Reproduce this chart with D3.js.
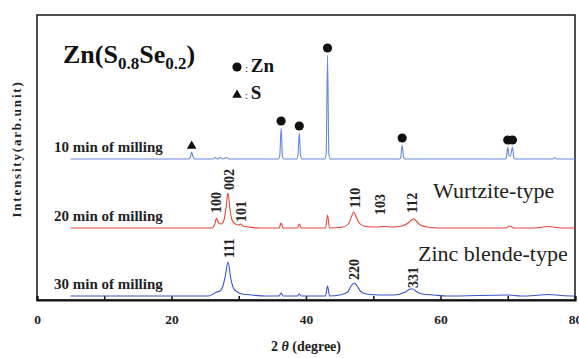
<!DOCTYPE html>
<html>
<head>
<meta charset="utf-8">
<script src="https://cdn.jsdelivr.net/npm/d3@7"></script>
<style>
  body { margin: 0; background: #fff; }
</style>
</head>
<body>
<svg class="xrd"></svg>
<script>
// scans: [2theta, intensity above the scan's own baseline]
const scan10 = [[5,0],[22.5,0],[22.8,2],[23,7],[23.2,2],[23.5,0],[26.2,0],[26.5,1.5],[26.8,0],[27.3,1.5],[27.6,0],[28.2,1.5],[28.5,0],
  [35.9,0],[36.1,3],[36.3,31],[36.5,3],[36.7,0],[38.6,0],[38.8,3],[39.0,26],[39.2,3],[39.4,0],
  [42.8,0],[43.0,5],[43.2,104],[43.4,5],[43.6,0],[53.9,0],[54.1,2],[54.3,14],[54.5,2],[54.7,0],
  [69.6,0],[69.8,2],[70.0,12],[70.2,3],[70.4,3],[70.7,12],[70.9,2],[71.1,0],[76.7,0],[77,1.5],[77.3,0],[80,0]];
const scan20 = [[5,0],[26.0,0],[26.4,3],[26.7,10],[27.0,5],[27.4,4],[27.8,8],[28.1,20],[28.4,35],[28.7,18],[29.0,8],[29.5,4],
  [30.0,3],[30.3,4],[30.6,2],[31.5,1],[33,0],[36.0,0],[36.3,5],[36.6,0],[38.7,0],[39.0,4],[39.3,0],[42.9,0],[43.2,13],[43.5,0],
  [45.5,1],[46.3,4],[46.8,12],[47.1,16],[47.4,12],[47.9,5],[48.6,2],[50,1],[51.7,1.5],[53,1],[54.3,2],[55.2,5],[55.7,8],[56.0,9],
  [56.4,7],[57.0,3],[58,1],[60,0],[69.8,0],[70.2,2],[70.6,1],[71,0],[74,0],[76,1.5],[78,0],[80,0]];
const scan30 = [[5,0],[25.5,0],[26.2,2],[26.7,4],[27.2,5],[27.6,9],[28.0,20],[28.4,34],[28.8,18],[29.2,8],[29.8,4],[30.5,2],[32,1],
  [34,0],[36.0,0],[36.3,3],[36.6,0],[38.7,0],[39.0,2],[39.3,0],[42.9,0],[43.2,10],[43.5,0],[45,1],[46.2,4],[46.8,11],[47.2,13],
  [47.6,10],[48.2,4],[49,2],[51,1],[53,1],[54.8,4],[55.5,7],[55.9,7],[56.5,4],[57.3,2],[59,1],[61,0],[70,1],[72,0],[74,0.5],
  [76,1.5],[78,0.5],[80,0]];

const seriesNames = ['10 min of milling', '20 min of milling', '30 min of milling'];
const seriesOffsets = [141, 72, 4];
const seriesColors = ['#6688e0', '#e8453a', '#3a55c8'];

const znPeaks = [36.3, 39.0, 43.2, 54.3, 70.0, 70.7];
const znHeights = [31, 26, 104, 14, 12, 12];
const sPeaks = [23.0];
const sHeights = [7];

const wurtziteHkl = ['100', '002', '101', '110', '103', '112'];
const wurtziteAt = [26.7, 28.5, 30.3, 47.3, 51.0, 55.8];
const wurtziteLift = [15, 38, 6, 20, 13, 15];
const blendeHkl = ['111', '220', '331'];
const blendeAt = [28.6, 47.1, 55.9];
const blendeLift = [38, 16, 8];

const xTicks = [0, 10, 20, 30, 40, 50, 60, 70, 80];
const xTickLabels = [0, 20, 40, 60, 80];

const serif = 'Liberation Serif';

const svg = d3.select('.xrd')
  .attr('width', 579)
  .attr('height', 358);

const margin = { top: 15, right: 4, bottom: 58, left: 37 },
  innerWidth = 579 - margin.left - margin.right,
  innerHeight = 358 - margin.top - margin.bottom;

const xScale = d3.scaleLinear().domain([0, 80]).range([0, innerWidth]);
const yScale = d3.scaleLinear().domain([0, innerHeight]).range([innerHeight, 0]);

const g = svg.append('g')
  .attr('transform', `translate(${margin.left}, ${margin.top})`);

// frame
g.append('rect')
  .attr('width', innerWidth).attr('height', innerHeight)
  .attr('fill', 'none').attr('stroke', '#222').attr('stroke-width', 1.6);

const xAxis = d3.axisBottom(xScale)
  .tickValues(xTicks)
  .tickSize(-4)
  .tickPadding(14)
  .tickFormat(d => xTickLabels.includes(d) ? d : '');
const xAxisG = g.append('g')
  .attr('transform', `translate(0, ${innerHeight})`)
  .call(xAxis)
  .attr('font-family', serif);
xAxisG.select('.domain').attr('stroke', '#111').attr('stroke-width', 2.2);
xAxisG.selectAll('.tick line').attr('stroke', '#111').attr('stroke-width', 1.5);
xAxisG.selectAll('.tick text')
  .filter(d => !xTickLabels.includes(d))
  .remove();
xAxisG.selectAll('.tick text')
  .attr('font-family', serif)
  .attr('font-weight', 'bold').attr('font-size', 13.5).attr('fill', '#222');

// scans
const scans = [scan10, scan20, scan30];
const line = off => d3.line()
  .x(d => xScale(d[0]))
  .y(d => yScale(d[1] + off))
  .curve(d3.curveMonotoneX);

scans.forEach((scan, i) => {
  g.append('path')
    .attr('d', line(seriesOffsets[i])(scan))
    .attr('fill', 'none')
    .attr('stroke', seriesColors[i])
    .attr('stroke-width', 1.1);
  g.append('text')
    .attr('x', 17)
    .attr('y', yScale(seriesOffsets[i]) - 7)
    .attr('font-family', serif)
    .attr('font-weight', 'bold').attr('font-size', 15).attr('fill', '#222')
    .text(seriesNames[i]);
});

// phase markers on 10 min scan
g.selectAll('.zn')
  .data(znPeaks)
  .enter().append('circle')
  .attr('cx', d => xScale(d))
  .attr('cy', (d, i) => yScale(seriesOffsets[0] + znHeights[i]) - 7)
  .attr('r', 4.6)
  .attr('fill', '#111');

const tri = d3.symbol().type(d3.symbolTriangle).size(40);
g.selectAll('.s')
  .data(sPeaks)
  .enter().append('path')
  .attr('d', tri)
  .attr('transform', (d, i) => `translate(${xScale(d)}, ${yScale(seriesOffsets[0] + sHeights[i]) - 6})`)
  .attr('fill', '#111');

// hkl labels
const hkl = (names, at, lift, off) => {
  g.selectAll(null)
    .data(names)
    .enter().append('text')
    .attr('transform', (d, i) => `translate(${xScale(at[i])}, ${yScale(off + lift[i])}) rotate(-90)`)
    .attr('dy', '0.35em')
    .attr('font-family', serif)
    .attr('font-weight', 'bold').attr('font-size', 14).attr('fill', '#222')
    .text(d => d);
};
hkl(wurtziteHkl, wurtziteAt, wurtziteLift, seriesOffsets[1]);
hkl(blendeHkl, blendeAt, blendeLift, seriesOffsets[2]);

// title and legend
const title = g.append('text')
  .attr('x', 26).attr('y', 48)
  .attr('font-family', serif)
  .attr('font-weight', 'bold').attr('font-size', 26).attr('fill', '#111');
title.append('tspan').text('Zn(S');
title.append('tspan').attr('font-size', 17).attr('dy', 6).text('0.8');
title.append('tspan').attr('dy', -6).text('Se');
title.append('tspan').attr('font-size', 17).attr('dy', 6).text('0.2');
title.append('tspan').attr('dy', -6).text(')');

g.append('circle').attr('cx', 200).attr('cy', 52).attr('r', 4.6).attr('fill', '#111');
g.append('path').attr('d', tri).attr('transform', 'translate(200, 80)').attr('fill', '#111');
const legZn = g.append('text').attr('x', 208).attr('y', 57).attr('font-family', serif).attr('fill', '#111');
legZn.append('tspan').attr('font-size', 11).text(': ');
legZn.append('tspan').attr('font-weight', 'bold').attr('font-size', 19).text('Zn');
const legS = g.append('text').attr('x', 208).attr('y', 84).attr('font-family', serif).attr('fill', '#111');
legS.append('tspan').attr('font-size', 11).text(': ');
legS.append('tspan').attr('font-weight', 'bold').attr('font-size', 19).text('S');

g.append('text')
  .attr('x', 396).attr('y', 183)
  .attr('font-family', serif)
  .attr('font-size', 22).attr('fill', '#222')
  .text('Wurtzite-type');
g.append('text')
  .attr('x', 381).attr('y', 246)
  .attr('font-family', serif)
  .attr('font-size', 22).attr('fill', '#222')
  .text('Zinc blende-type');

// axis titles
const xLabel = svg.append('text')
  .attr('x', margin.left + xScale(40)).attr('y', 351)
  .attr('text-anchor', 'middle')
  .attr('font-family', serif)
  .attr('font-weight', 'bold').attr('font-size', 14).attr('fill', '#222');
xLabel.append('tspan').text('2 ');
xLabel.append('tspan').attr('font-style', 'italic').text('θ');
xLabel.append('tspan').text(' (degree)');

svg.append('text')
  .attr('transform', `translate(21, ${margin.top + 134}) rotate(-90)`)
  .attr('text-anchor', 'middle')
  .attr('font-family', serif)
  .attr('font-weight', 'bold').attr('font-size', 13).attr('letter-spacing', 1.8).attr('fill', '#222')
  .text('Intensity(arb.unit)');
</script>
</body>
</html>
